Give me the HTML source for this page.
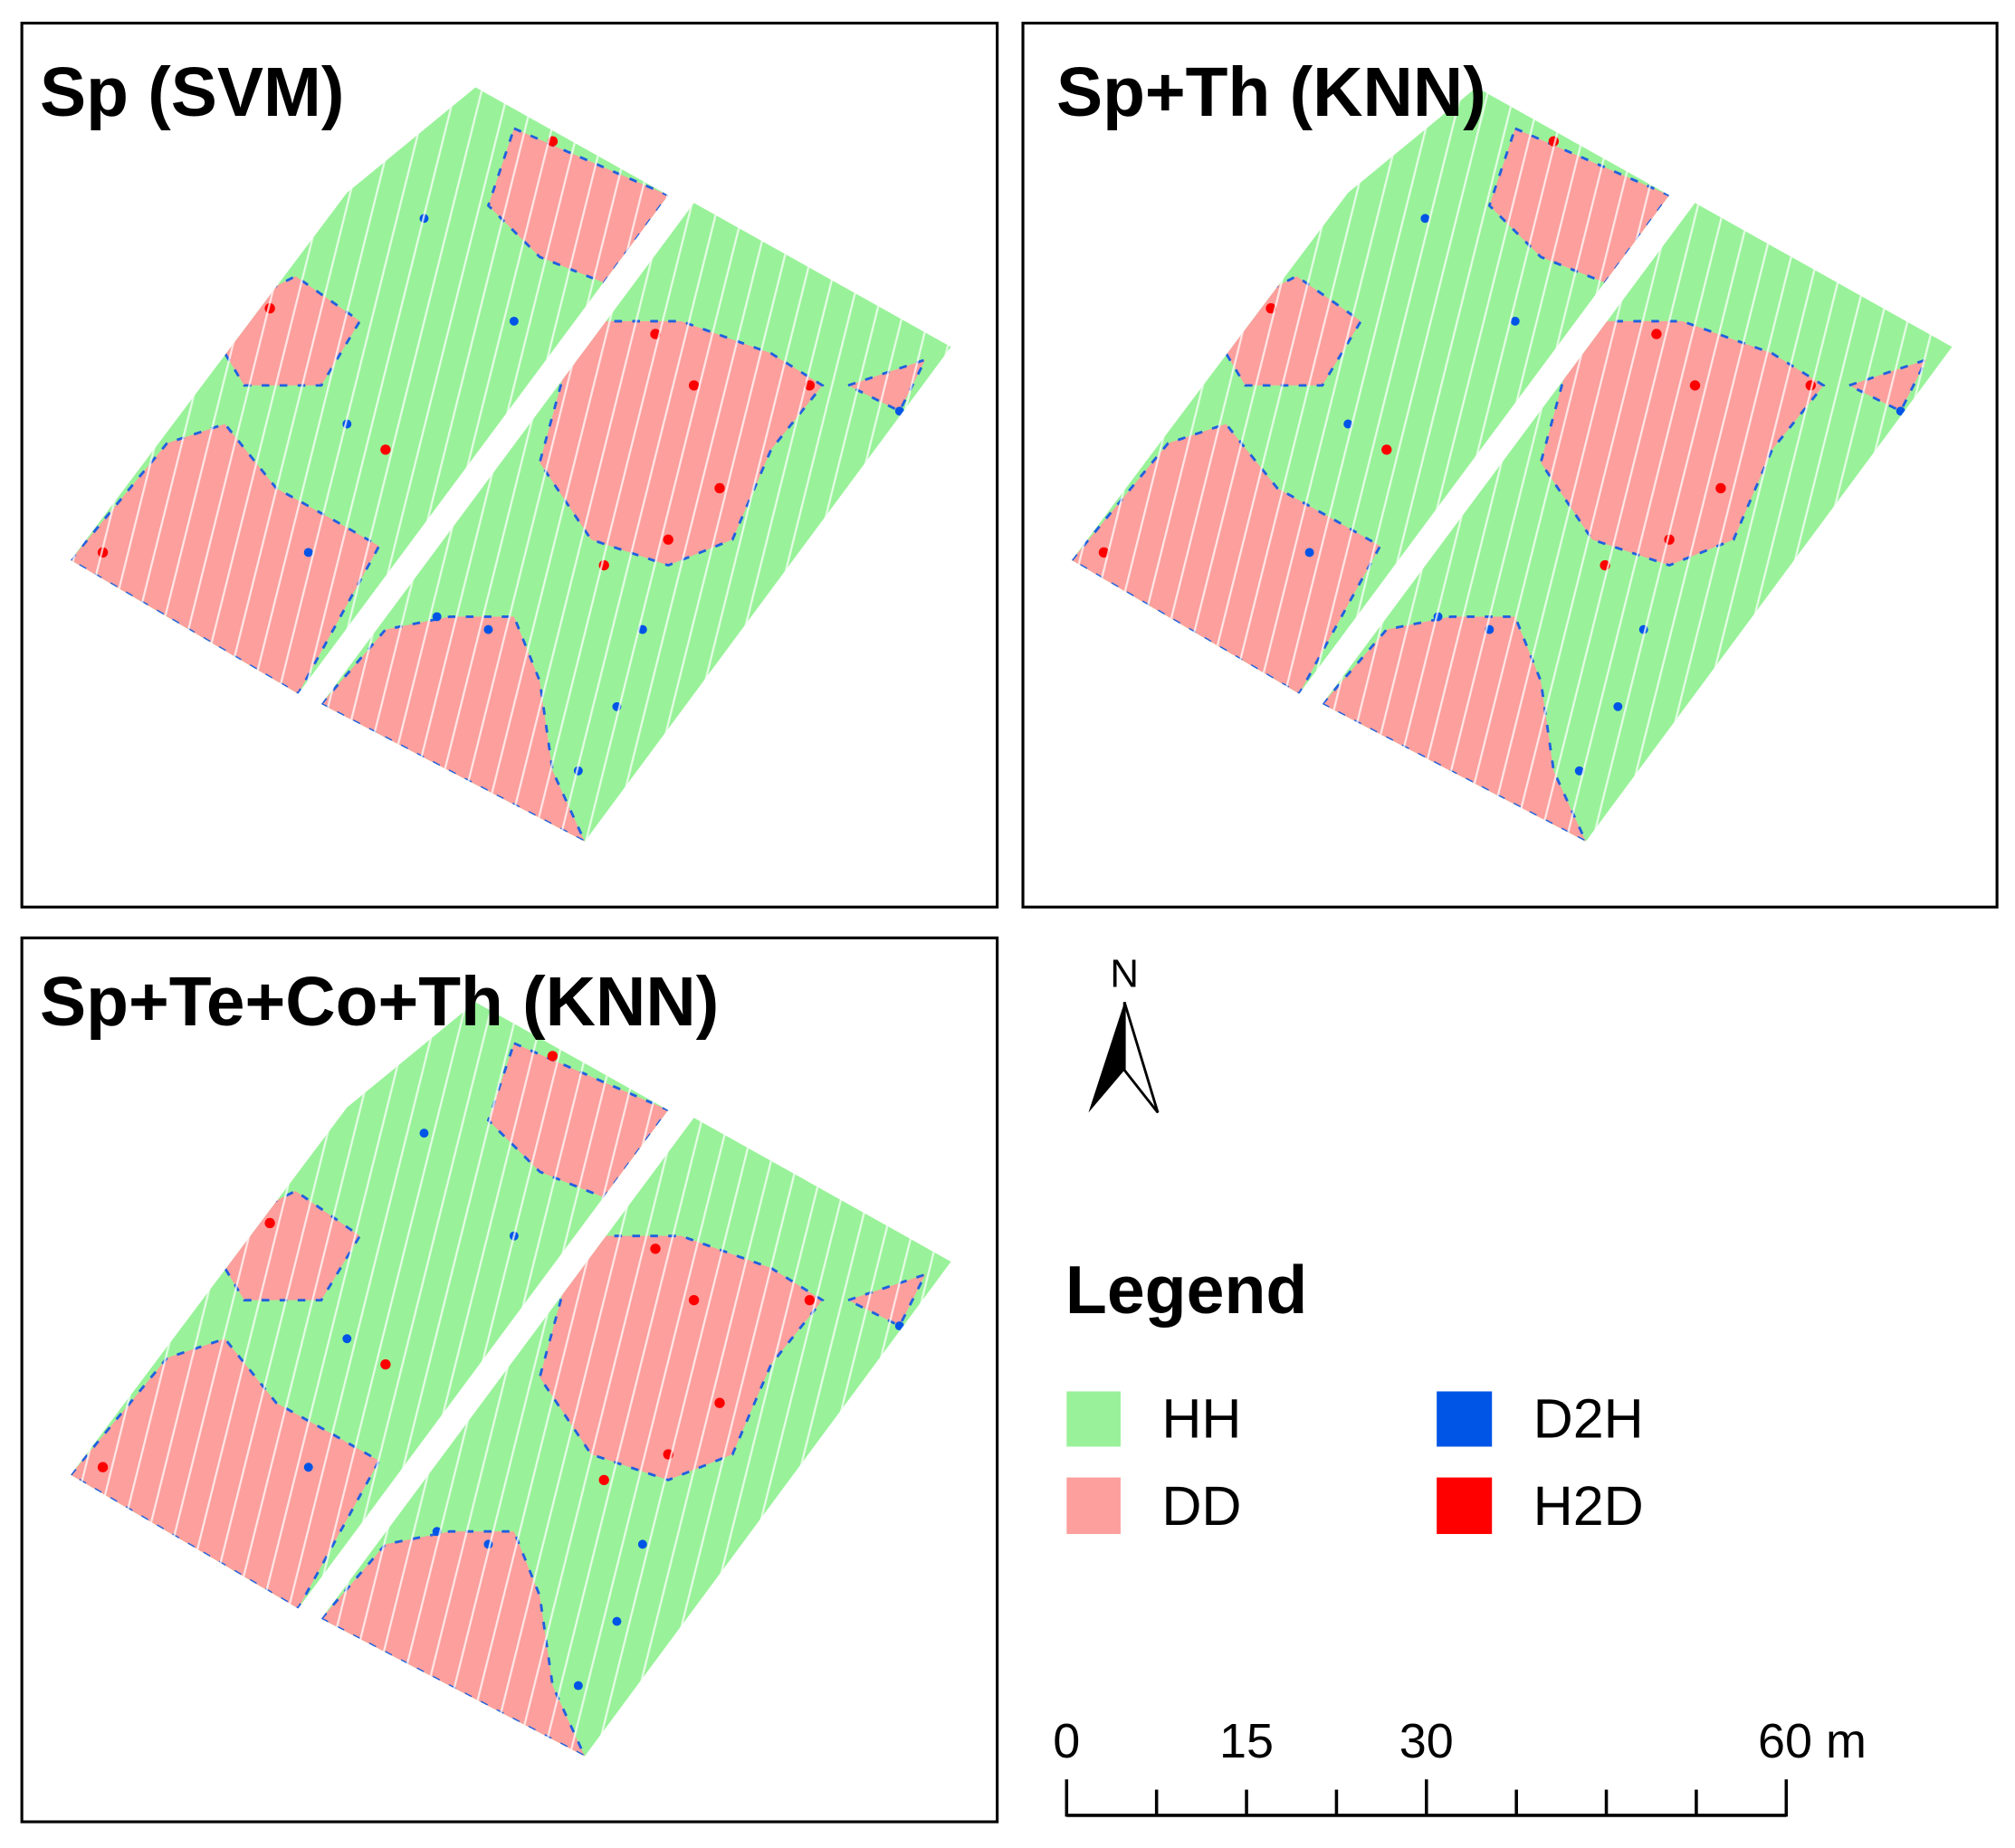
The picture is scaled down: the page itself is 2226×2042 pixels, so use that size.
<!DOCTYPE html>
<html><head><meta charset="utf-8"><style>
html,body{margin:0;padding:0;background:#fff}
svg{display:block}
text{font-family:"Liberation Sans",Arial,sans-serif}
</style></head><body>
<svg id="fig" width="2226" height="2042" viewBox="0 0 1568 1438.4" xmlns="http://www.w3.org/2000/svg">
<rect width="1568" height="1438.4" fill="#fff"/>
<defs>
<pattern id="rows" width="20" height="40" patternUnits="userSpaceOnUse" patternTransform="rotate(14)">
<rect x="0" y="0" width="1.6" height="40" fill="#fff" opacity="0.75"/>
</pattern>
</defs>
<g id="panels"></g>

<rect x="17" y="18" width="759" height="688" fill="none" stroke="#000" stroke-width="2.2"/>
<rect x="796" y="18" width="758" height="688" fill="none" stroke="#000" stroke-width="2.2"/>
<rect x="17" y="730" width="759" height="688" fill="none" stroke="#000" stroke-width="2.2"/>

<text x="31" y="90" font-size="54" font-weight="bold">Sp (SVM)</text>
<text x="822" y="90" font-size="54" font-weight="bold">Sp+Th (KNN)</text>
<text x="31" y="798" font-size="54" font-weight="bold">Sp+Te+Co+Th (KNN)</text>

<g>
<text x="875" y="768" font-size="31" text-anchor="middle">N</text>
<polygon points="875,780 847,866 875,833" fill="#000"/>
<polygon points="875,780 901,866 875,833" fill="#fff" stroke="#000" stroke-width="2"/>
</g>

<text x="829" y="1022" font-size="53" font-weight="bold">Legend</text>
<rect x="830" y="1083" width="42" height="43" fill="#99f299"/>
<text x="904" y="1119" font-size="43">HH</text>
<rect x="830" y="1150" width="42" height="44" fill="#fc9f9d"/>
<text x="904" y="1187" font-size="43">DD</text>
<rect x="1118" y="1083" width="43" height="43" fill="#0055e6"/>
<text x="1193" y="1119" font-size="43">D2H</text>
<rect x="1118" y="1150" width="43" height="44" fill="#ff0000"/>
<text x="1193" y="1187" font-size="43">H2D</text>

<g id="scalebar"></g>
</svg>
<script>
const NS="http://www.w3.org/2000/svg";
const scaleLabels=["0","15","30","60 m"];
const scaleValues=[0,15,30,60];
const panelOffsets=[[0,0],[779,0],[0,712]];
const panelNames=["sp-svm","sp-th-knn","sp-te-co-th-knn"];
// field geometry in panel-1 coordinates
const stripLeft=[[55,436],[270,150],[370,68],[520,152],[232,540]];
const stripRight=[[540,158],[740,270],[455,655],[250,548]];
const pinkAreas=[
 [[55,436],[130,345],[175,330],[215,380],[260,405],[295,425],[232,540]],
 [[400,100],[520,152],[470,220],[420,200],[380,160]],
 [[160,250],[230,215],[280,250],[250,300],[190,300]],
 [[250,548],[300,490],[350,480],[400,480],[420,530],[430,600],[455,655]],
 [[450,250],[530,250],[600,275],[640,300],[600,350],[570,420],[520,440],[460,420],[420,360]],
 [[660,300],[720,280],[700,320]]
];
const redSpots=[[510,260],[540,300],[560,380],[520,420],[470,440],[630,300],[300,350],[210,240],[430,110],[80,430]];
const blueSpots=[[340,480],[380,490],[450,600],[480,550],[400,250],[330,170],[240,430],[270,330],[700,320],[500,490]];
const g=document.getElementById('panels');
function pts(a,ox,oy){return a.map(p=>(p[0]+ox)+","+(p[1]+oy)).join(" ");}
panelOffsets.forEach((o,i)=>{
 const pg=document.createElementNS(NS,'g');
 
 
 const cid='clip'+i;
 const cp=document.createElementNS(NS,'clipPath');cp.setAttribute('id',cid);
 [stripLeft,stripRight].forEach(s=>{const p=document.createElementNS(NS,'polygon');p.setAttribute('points',pts(s,o[0],o[1]));cp.appendChild(p);});
 pg.appendChild(cp);
 const inner=document.createElementNS(NS,'g');inner.setAttribute('clip-path','url(#'+cid+')');
 const bg=document.createElementNS(NS,'rect');
 
 
 bg.setAttribute('x',o[0]);bg.setAttribute('y',o[1]);bg.setAttribute('width',780);bg.setAttribute('height',712);bg.setAttribute('fill','#99f299');
 inner.appendChild(bg);
 pinkAreas.forEach(a=>{const p=document.createElementNS(NS,'polygon');
  
  
  p.setAttribute('points',pts(a,o[0],o[1]));p.setAttribute('fill','#fc9f9d');p.setAttribute('stroke','#2060e0');p.setAttribute('stroke-width','2');p.setAttribute('stroke-dasharray','6 8');inner.appendChild(p);});
 redSpots.forEach(s=>{const c=document.createElementNS(NS,'circle');
  
  
  c.setAttribute('cx',s[0]+o[0]);c.setAttribute('cy',s[1]+o[1]);c.setAttribute('r',4);c.setAttribute('fill','#ff0000');inner.appendChild(c);});
 blueSpots.forEach(s=>{const c=document.createElementNS(NS,'circle');
  
  
  c.setAttribute('cx',s[0]+o[0]);c.setAttribute('cy',s[1]+o[1]);c.setAttribute('r',3.5);c.setAttribute('fill','#0055e6');inner.appendChild(c);});
 const st=document.createElementNS(NS,'rect');
 
 
 st.setAttribute('x',o[0]);st.setAttribute('y',o[1]);st.setAttribute('width',780);st.setAttribute('height',712);st.setAttribute('fill','url(#rows)');
 inner.appendChild(st);
 pg.appendChild(inner);g.appendChild(pg);
});
// scale bar
const sb=document.getElementById('scalebar');
const x0=830,x1=1390,maxV=60;
const sx=v=>x0+(x1-x0)*v/maxV;
const ln=document.createElementNS(NS,'line');


ln.setAttribute('x1',x0);ln.setAttribute('x2',x1);ln.setAttribute('y1',1413);ln.setAttribute('y2',1413);ln.setAttribute('stroke','#000');ln.setAttribute('stroke-width','2.5');sb.appendChild(ln);
for(let k=0;k<=8;k++){const v=k*7.5;const major=(v===0||v===30||v===60);
 const t=document.createElementNS(NS,'line');
 
 
 t.setAttribute('x1',sx(v));t.setAttribute('x2',sx(v));t.setAttribute('y1',major?1385:1393);t.setAttribute('y2',1414);t.setAttribute('stroke','#000');t.setAttribute('stroke-width','2.5');sb.appendChild(t);}
scaleLabels.forEach((l,i)=>{const t=document.createElementNS(NS,'text');
 
 
 const last=(i===scaleLabels.length-1);
 t.setAttribute('x',last?sx(scaleValues[i])-22:sx(scaleValues[i]));
 t.setAttribute('text-anchor',last?'start':'middle');
 t.setAttribute('y',1368);t.setAttribute('font-size','38');t.textContent=l;sb.appendChild(t);});
</script>
</body></html>
